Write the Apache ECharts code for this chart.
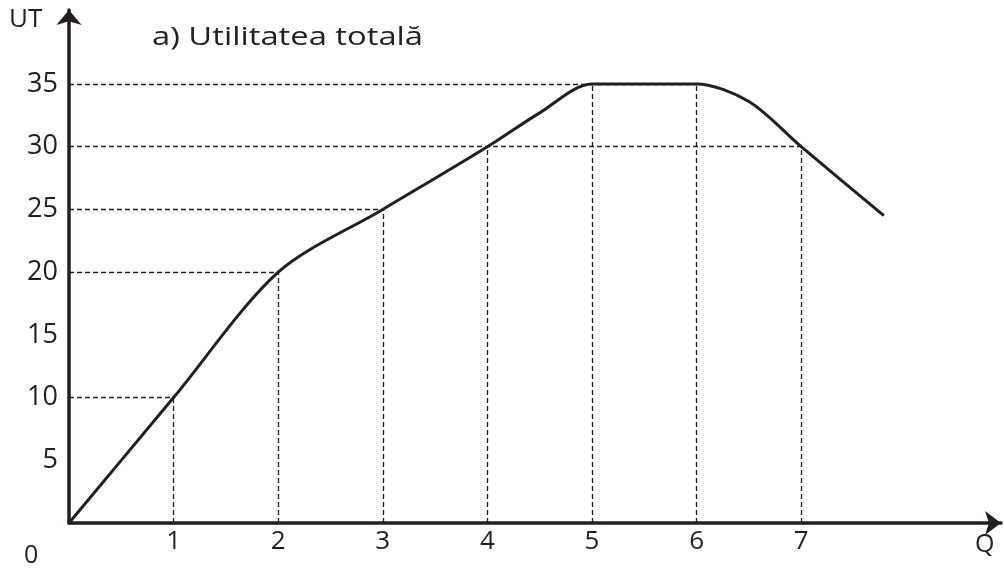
<!DOCTYPE html>
<html>
<head>
<meta charset="utf-8">
<script src="https://cdn.jsdelivr.net/npm/echarts@6/dist/echarts.min.js"></script>
<style>
html,body{margin:0;padding:0;background:#fff;}
#chart{width:1004px;height:568px;}
</style>
</head>
<body>
<div id="chart"></div>
<script>
// Data (points on the total-utility curve)
var qValues = [0, 1, 2, 3, 4, 4.5, 5, 6, 6.5, 7, 7.79];
var utValues = [0, 10, 20, 25, 30, 32.7, 35, 35, 33.6, 30, 24.5];
// guide points (dashed drop lines): Q and UT
var guideQ = [1, 2, 3, 4, 5, 6, 7];
var guideUT = [10, 20, 25, 30, 35, 35, 30];
// horizontal guides: level and how far right they go
var hLevels = [10, 20, 25, 30, 35];
var hEnds = [1, 2, 3, 7, 6];
var xTickLabels = ['1', '2', '3', '4', '5', '6', '7'];
var yTickLabels = ['5', '10', '15', '20', '25', '30', '35'];

var font = 'Open Sans';
var ink = '#231f20';

var curve = qValues.map(function (q, i) { return [q, utValues[i]]; });
var lines = [];
hLevels.forEach(function (v, i) {
  lines.push([{ coord: [0, v] }, { coord: [hEnds[i], v] }]);
});
guideQ.forEach(function (q, i) {
  lines.push([{ coord: [q, 0] }, { coord: [q, guideUT[i]] }]);
});

var chart = echarts.init(document.getElementById('chart'), null, { renderer: 'canvas' });
chart.setOption({
  backgroundColor: '#fff',
  animation: false,
  grid: { left: 69, right: 2, top: 10, bottom: 45, containLabel: false },
  xAxis: {
    type: 'value', min: 0, max: 8.91, interval: 1,
    axisLine: { show: true, symbol: ['none', 'arrow'], symbolSize: [18, 16],
      lineStyle: { color: ink, width: 3.5 } },
    axisTick: { show: false },
    splitLine: { show: false },
    axisLabel: {
      margin: 6, fontFamily: font, fontSize: 26, color: ink, showMinLabel: true, showMaxLabel: true,
      formatter: function (v) { var i = xTickLabels.indexOf(String(v)); return i >= 0 ? xTickLabels[i] : ''; }
    }
  },
  yAxis: {
    type: 'value', min: 0, max: 40.9, interval: 5,
    axisLine: { show: true, symbol: ['none', 'arrow'], symbolSize: [19, 15],
      lineStyle: { color: ink, width: 3.5 } },
    axisTick: { show: false },
    splitLine: { show: false },
    axisLabel: {
      margin: 11, fontFamily: font, fontSize: 27, color: ink,
      formatter: function (v) { var i = yTickLabels.indexOf(String(v)); return i >= 0 ? yTickLabels[i] : ''; }
    }
  },
  graphic: [
    { type: 'text', x: 152, y: 25, scaleX: 1.31,
      style: { text: 'a) Utilitatea totală', font: '25px "Open Sans"', fill: ink, textBaseline: 'top' } },
    { type: 'text', left: 9, top: 7, style: { text: 'UT', font: '26px "Open Sans"', fill: ink } },
    { type: 'text', left: 975, top: 532, style: { text: 'Q', font: '25px "Open Sans"', fill: ink } },
    { type: 'text', left: 24, top: 543, style: { text: '0', font: '25px "Open Sans"', fill: ink } }
  ],
  series: [{
    type: 'line',
    data: curve,
    smooth: 0.3,
    symbol: 'none',
    lineStyle: { color: ink, width: 3 },
    z: 3,
    markLine: {
      silent: true,
      symbol: ['none', 'none'],
      label: { show: false },
      lineStyle: { color: ink, width: 1.3, type: [5, 3] },
      data: lines
    }
  }]
});
</script>
</body>
</html>
